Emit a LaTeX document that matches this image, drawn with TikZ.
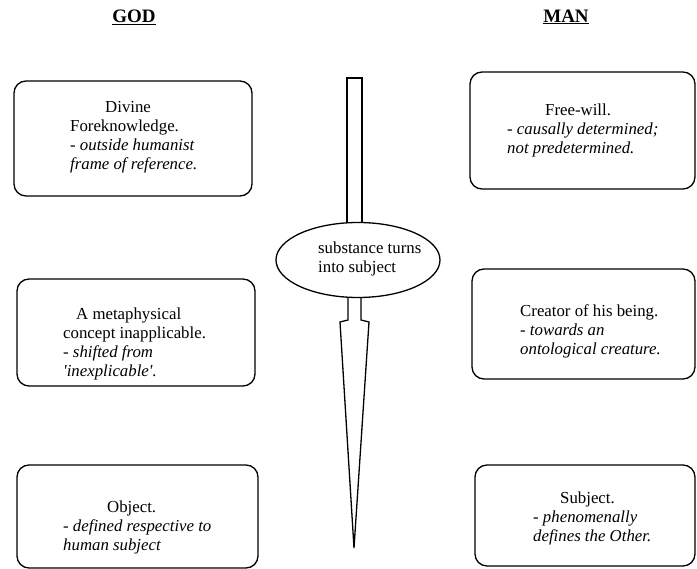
\documentclass[tikz,border=0pt]{standalone}
\usepackage{fontspec}
\setmainfont{Liberation Serif}
\usetikzlibrary{shapes.geometric, positioning}

\tikzset{
  heading/.style={font=\fontsize{19}{22}\selectfont\bfseries, inner sep=0pt},
  box/.style={draw, line width=1.3pt, rounded corners=12pt, inner sep=0pt},
  boxtext/.style={align=left, anchor=west, inner sep=0pt, yshift=-2.5pt, font=\fontsize{16.8}{19}\selectfont},
  spike/.style={draw, line width=1.3pt, line join=miter},
}

\begin{document}
\begin{tikzpicture}[x=1pt, y=-1pt]
    \useasboundingbox (0,0) rectangle (697,569);

    \node(god)[heading] at (134,17){\underline{GOD}};
    \node(man)[heading] at (566,17){\underline{MAN}};

    % god side
    \node(foreknow)[box, minimum width=238pt, minimum height=115pt] at (133,138.5){};
    \node(foreknow_txt)[boxtext] at (70,134.5){\hspace*{35pt}Divine\\Foreknowledge.\\- \textit{outside humanist}\\\textit{frame of reference.}};

    \node(concept)[box, minimum width=238pt, minimum height=107pt] at (136,332.5){};
    \node(concept_txt)[boxtext] at (63,341){\hspace*{13pt}A metaphysical\\concept inapplicable.\\- \textit{shifted from}\\\textit{\textquotesingle inexplicable\textquotesingle.}};

    \node(object)[box, minimum width=241pt, minimum height=103pt] at (137.5,516.5){};
    \node(object_txt)[boxtext] at (63,524.5){\hspace*{44pt}Object.\\- \textit{defined respective to}\\\textit{human subject}};

    % man side
    \node(freewill)[box, minimum width=225pt, minimum height=117pt] at (582.5,130.5){};
    \node(freewill_txt)[boxtext] at (507,127.5){\hspace*{38pt}Free-will.\\- \textit{causally determined;}\\\textit{not predetermined.}};

    \node(creator)[box, minimum width=223pt, minimum height=110pt] at (583.5,324){};
    \node(creator_txt)[boxtext] at (520,328.5){Creator of his being.\\- \textit{towards an}\\\textit{ontological creature.}};

    \node(subject)[box, minimum width=220pt, minimum height=101pt] at (585,515.5){};
    \node(subject_txt)[boxtext] at (533,515.5){\hspace*{27pt}Subject.\\- \textit{phenomenally}\\\textit{defines the Other.}};

    % the pin through the middle
    \draw[spike] (347,78) rectangle (362,232);
    \draw[spike] (348,290) -- (348,320) -- (340,322) -- (354,548) -- (369,322) -- (361,320) -- (361,290);

    \node(core)[ellipse, draw, fill=white, line width=1.3pt, minimum width=164pt, minimum height=75pt] at (358,260){};
    \node(core_txt)[boxtext] at (318,256.5){substance turns\\into subject};
\end{tikzpicture}
\end{document}
